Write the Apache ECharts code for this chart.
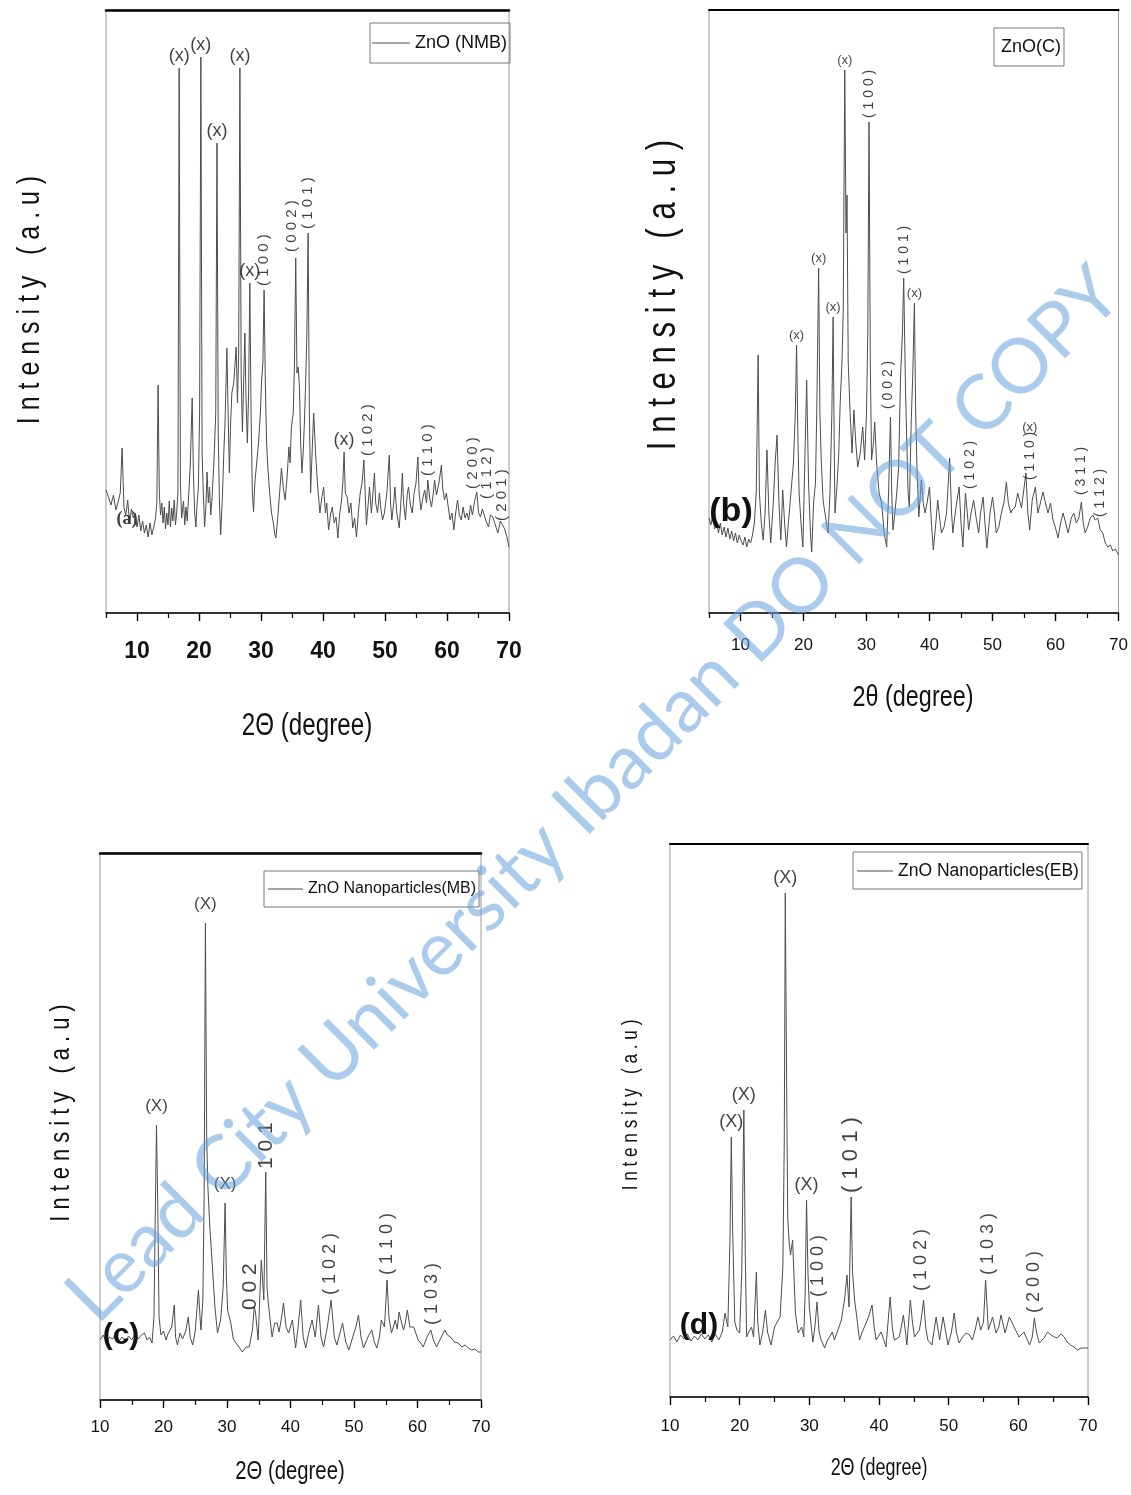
<!DOCTYPE html>
<html>
<head>
<meta charset="utf-8">
<script src="https://cdn.jsdelivr.net/npm/echarts@6/dist/echarts.min.js"></script>
<style>
  html, body { margin: 0; padding: 0; background: #fff; }
  #chart { width: 1131px; height: 1495px; }
</style>
</head>
<body>
<div id="chart"></div>
<script>
// XRD patterns of ZnO samples: [2θ (degree), intensity (a.u.)]

const majorTicks = [10, 20, 30, 40, 50, 60, 70];
const minorTicksFrom5 = [5, 15, 25, 35, 45, 55, 65];
const minorTicksFrom15 = [15, 25, 35, 45, 55, 65];

// (a) ZnO (NMB)
const patternNMB = [
  [5.0,123],[5.4,116],[5.8,108],[6.2,118],[6.6,103],[7.0,112],[7.3,120],[7.6,165],[7.9,105],[8.2,98],
  [8.5,113],[8.8,90],[9.1,104],[9.4,95],[9.7,100],[10.0,86],[10.3,98],[10.6,82],[10.9,92],[11.2,80],
  [11.5,88],[11.8,76],[12.1,90],[12.4,78],[12.7,86],[13.0,95],[13.2,110],[13.4,228],[13.6,120],[13.8,98],
  [14.0,110],[14.2,90],[14.4,106],[14.6,84],[14.8,100],[15.0,88],[15.2,112],[15.4,86],[15.6,105],[15.8,92],
  [16.0,113],[16.2,88],[16.4,100],[16.6,120],[16.8,545],[17.0,130],[17.2,95],[17.5,112],[17.7,88],[17.9,106],
  [18.1,92],[18.4,125],[18.6,150],[18.9,215],[19.1,140],[19.3,100],[19.5,86],[19.7,110],[19.9,125],[20.1,200],
  [20.3,556],[20.5,160],[20.7,120],[20.9,86],[21.1,105],[21.3,141],[21.5,110],[21.7,126],[21.9,98],[22.1,115],
  [22.4,150],[22.7,200],[22.9,470],[23.1,180],[23.3,110],[23.5,78],[23.8,120],[24.0,160],[24.2,190],[24.5,265],
  [24.7,200],[24.9,140],[25.1,190],[25.3,220],[25.6,230],[26.0,266],[26.2,210],[26.4,260],[26.6,545],[26.8,240],
  [27.0,181],[27.2,230],[27.4,280],[27.6,210],[27.8,170],[28.0,220],[28.2,330],[28.4,200],[28.6,120],[28.8,101],
  [29.0,130],[29.3,150],[29.6,170],[29.9,200],[30.1,233],[30.3,250],[30.5,323],[30.7,230],[30.9,170],[31.1,146],
  [31.4,120],[31.7,100],[32.0,90],[32.2,80],[32.4,75],[32.7,95],[33.0,120],[33.3,145],[33.6,125],[33.9,113],
  [34.2,135],[34.5,166],[34.7,150],[34.9,186],[35.2,200],[35.4,250],[35.6,355],[35.8,240],[36.0,246],[36.2,226],
  [36.4,170],[36.6,140],[36.8,160],[37.0,190],[37.2,230],[37.4,280],[37.6,380],[37.8,200],[38.0,120],[38.3,170],
  [38.5,200],[38.8,160],[39.1,130],[39.5,100],[39.8,115],[40.1,126],[40.4,100],[40.6,110],[40.9,83],[41.2,98],
  [41.5,106],[41.8,90],[42.1,96],[42.4,75],[42.7,100],[43.0,113],[43.2,130],[43.4,161],[43.6,120],[43.9,116],
  [44.2,100],[44.5,110],[44.8,85],[45.1,95],[45.4,76],[45.7,100],[46.0,120],[46.3,130],[46.6,153],[46.8,120],
  [47.0,88],[47.3,110],[47.5,126],[47.8,100],[48.0,115],[48.3,140],[48.5,110],[48.8,100],[49.1,120],[49.3,106],
  [49.6,93],[49.9,100],[50.3,120],[50.7,158],[50.9,110],[51.1,93],[51.4,110],[51.6,126],[51.9,100],[52.3,85],
  [52.6,115],[52.8,140],[53.0,110],[53.3,93],[53.6,120],[53.8,126],[54.1,108],[54.4,100],[54.7,120],[55.0,130],
  [55.3,156],[55.5,120],[55.8,103],[56.1,115],[56.4,123],[56.7,110],[56.9,133],[57.2,115],[57.5,106],[57.8,120],
  [58.0,133],[58.3,118],[58.7,130],[59.1,148],[59.3,125],[59.6,113],[59.9,120],[60.2,106],[60.5,93],[60.8,100],
  [61.1,83],[61.4,100],[61.7,113],[62.0,98],[62.3,93],[62.6,106],[62.9,95],[63.2,100],[63.5,93],[63.8,108],
  [64.1,98],[64.4,110],[64.8,121],[65.1,100],[65.4,96],[65.7,104],[66.0,106],[66.3,92],[66.7,86],[67.0,98],
  [67.4,96],[67.8,88],[68.2,80],[68.6,92],[68.9,90],[69.3,84],[69.7,75],[70.0,66]
];
const phaseLabelsNMB = [[16.8,545,'(x)'],[20.3,556,'(x)'],[22.9,470,'(x)'],[26.6,545,'(x)'],[28.2,330,'(x)'],[43.4,161,'(x)']];
const planeLabelsNMB = [[30.5,323,'(100)'],[35.0,357,'(002)'],[37.6,380,'(101)'],[47.2,153,'(102)'],[56.9,133,'(110)'],[64.2,120,'(200)'],[66.5,110,'(112)'],[68.9,88,'(201)']];

// (b) ZnO(C)
const patternC = [
  [5.0,95],[5.3,88],[5.6,98],[5.9,84],[6.2,92],[6.5,80],[6.8,90],[7.1,78],[7.4,86],[7.7,76],
  [8.0,85],[8.3,74],[8.6,82],[8.9,72],[9.2,80],[9.5,70],[9.8,78],[10.1,72],[10.4,68],[10.7,76],
  [11.0,66],[11.3,74],[11.6,70],[11.9,78],[12.2,90],[12.5,120],[12.8,258],[13.0,120],[13.3,90],[13.6,73],
  [13.9,100],[14.2,163],[14.5,100],[14.8,70],[15.2,110],[15.5,150],[15.8,178],[16.1,110],[16.4,73],[16.7,123],
  [17.0,90],[17.3,66],[17.6,90],[18.0,120],[18.4,150],[18.7,200],[18.9,268],[19.1,180],[19.3,120],[19.6,90],
  [19.9,66],[20.2,150],[20.5,233],[20.8,130],[21.1,80],[21.3,61],[21.6,110],[21.9,130],[22.1,200],[22.4,345],
  [22.6,200],[22.8,156],[23.1,113],[23.4,100],[23.9,80],[24.2,120],[24.5,200],[24.7,296],[24.9,150],[25.0,100],
  [25.3,126],[25.6,160],[25.8,206],[26.1,250],[26.3,300],[26.55,543],[26.75,380],[26.9,418],[27.1,250],[27.4,200],
  [27.7,160],[28.0,203],[28.3,170],[28.6,146],[29.0,160],[29.4,186],[29.7,153],[30.0,200],[30.2,280],[30.4,491],
  [30.6,250],[30.8,153],[31.1,170],[31.3,191],[31.6,150],[32.0,120],[32.4,110],[32.8,80],[33.2,66],[33.5,120],
  [33.8,196],[34.0,120],[34.2,83],[34.5,100],[34.8,120],[35.1,146],[35.4,236],[35.7,280],[35.9,335],[36.2,220],
  [36.4,170],[36.6,120],[36.8,106],[37.1,193],[37.35,240],[37.6,310],[37.8,200],[38.0,146],[38.3,96],[38.7,133],
  [39.0,110],[39.3,100],[39.6,110],[40.0,126],[40.3,90],[40.6,63],[41.0,90],[41.3,113],[41.6,95],[41.9,80],
  [42.3,86],[42.7,100],[43.2,155],[43.5,100],[43.7,80],[44.0,96],[44.3,110],[44.7,126],[45.0,90],[45.3,66],
  [45.7,120],[46.0,100],[46.2,83],[46.6,100],[47.0,113],[47.4,95],[47.8,80],[48.1,100],[48.5,116],[48.8,90],
  [49.1,65],[49.6,100],[50.0,116],[50.3,100],[50.6,80],[51.0,86],[51.4,100],[51.8,110],[52.2,131],[52.5,110],
  [52.9,100],[53.2,104],[53.6,106],[54.0,120],[54.3,120],[54.6,105],[55.0,125],[55.3,140],[55.6,100],[55.9,83],
  [56.3,113],[56.8,126],[57.2,100],[57.6,110],[58.0,121],[58.4,110],[58.8,100],[59.2,110],[59.6,93],[60.0,85],
  [60.4,75],[60.8,90],[61.2,100],[61.6,90],[62.0,80],[62.5,95],[62.9,100],[63.3,90],[63.7,95],[64.1,111],
  [64.4,90],[64.7,80],[65.1,86],[65.5,95],[65.9,98],[66.3,93],[66.7,95],[67.1,83],[67.5,80],[67.9,70],
  [68.3,66],[68.7,68],[69.1,62],[69.5,64],[70.0,58]
];
const phaseLabelsC = [[18.9,268,'(x)'],[22.4,345,'(x)'],[24.7,296,'(x)'],[26.55,543,'(x)'],[37.6,310,'(x)']];
const stackedLabelsC = [[55.9,129,'(x)']];
const planeLabelsC = [[30.4,491,'(100)'],[33.4,200,'(002)'],[35.9,335,'(101)'],[46.4,120,'(102)'],[55.9,129,'(110)'],[64.1,114,'(311)'],[67.1,92,'(112)']];

// (c) ZnO Nanoparticles(MB)
const patternMB = [
  [10.0,57],[10.5,62],[11.0,55],[11.5,60],[12.0,58],[12.5,63],[13.0,56],[13.5,60],[14.0,55],[14.5,61],
  [15.0,57],[15.5,63],[16.0,58],[16.5,62],[17.0,64],[17.4,57],[17.8,60],[18.2,54],[18.5,80],[18.7,180],
  [18.9,272],[19.1,190],[19.3,80],[19.6,62],[20.0,66],[20.4,57],[20.7,63],[20.9,62],[21.3,70],[21.7,92],
  [21.9,60],[22.2,52],[22.6,64],[23.0,58],[23.5,66],[23.9,80],[24.2,60],[24.6,52],[25.0,66],[25.5,107],
  [25.8,75],[25.9,67],[26.2,97],[26.4,200],[26.6,474],[26.8,260],[27.0,209],[27.3,170],[27.7,130],[28.1,90],
  [28.5,64],[29.0,77],[29.4,110],[29.7,194],[29.9,120],[30.1,87],[30.6,74],[31.0,58],[31.4,54],[31.9,50],
  [32.4,45],[33.0,50],[33.5,50],[34.0,67],[34.3,90],[34.5,84],[34.9,57],[35.4,137],[35.8,97],[36.1,225],
  [36.3,110],[36.5,94],[37.1,60],[37.5,74],[37.9,74],[38.2,65],[38.6,80],[38.9,94],[39.3,70],[39.7,64],
  [40.3,77],[40.8,49],[41.2,70],[41.6,97],[42.0,60],[42.4,49],[42.9,65],[43.4,77],[43.9,60],[44.4,92],
  [44.8,60],[45.2,50],[45.8,70],[46.4,97],[46.9,60],[47.3,52],[48.2,74],[48.7,55],[49.2,47],[49.8,60],
  [50.3,70],[50.7,82],[51.1,60],[51.5,49],[52.2,60],[52.8,67],[53.2,55],[53.6,49],[54.0,60],[54.3,77],
  [54.8,70],[55.2,117],[55.5,80],[55.9,64],[56.2,70],[56.5,77],[56.8,68],[57.1,85],[57.5,74],[57.8,67],
  [58.1,75],[58.4,87],[58.8,70],[59.4,70],[60.1,57],[60.5,54],[60.9,50],[61.5,60],[62.1,67],[62.5,57],
  [63.0,50],[63.6,58],[64.3,67],[64.7,62],[65.2,60],[65.8,55],[66.4,54],[67.0,50],[67.5,52],[68.0,49],
  [68.5,47],[69.0,48],[69.6,45],[70.0,45]
];
const phaseLabelsMB = [[18.9,272,'(X)'],[26.6,474,'(X)'],[29.7,194,'(X)']];
const planeLabelsMB = [[46.3,97,'(102)'],[55.2,117,'(110)'],[62.3,67,'(103)']];
const bigPlaneLabelsMB = [[33.7,84,'002'],[36.1,225,'101']];

// (d) ZnO Nanoparticles(EB)
const patternEB = [
  [10.0,52],[10.5,56],[11.0,50],[11.5,57],[12.0,53],[12.5,58],[13.0,51],[13.5,56],[14.0,52],[14.5,58],
  [15.0,53],[15.5,57],[16.0,50],[16.5,58],[17.0,52],[17.5,60],[17.9,79],[18.3,65],[18.6,150],[18.8,255],
  [19.0,160],[19.3,70],[19.6,62],[20.0,59],[20.3,120],[20.6,282],[20.8,140],[21.0,55],[21.3,60],[21.7,65],
  [22.0,55],[22.4,120],[22.6,70],[22.9,47],[23.3,60],[23.7,82],[24.0,60],[24.5,47],[25.0,65],[25.4,70],
  [25.8,75],[26.2,125],[26.4,250],[26.55,499],[26.75,300],[26.9,174],[27.1,150],[27.3,137],[27.6,152],[28.0,79],
  [28.4,59],[28.9,65],[29.2,55],[29.4,100],[29.6,192],[29.8,120],[30.0,85],[30.5,50],[30.8,65],[31.1,90],
  [31.4,60],[31.7,52],[32.2,44],[32.6,52],[32.9,55],[33.3,60],[33.6,52],[34.1,62],[34.6,72],[35.1,95],
  [35.4,117],[35.7,85],[36.0,195],[36.2,120],[36.5,92],[36.9,70],[37.2,52],[37.6,60],[37.9,65],[38.5,75],
  [39.0,87],[39.3,65],[39.6,52],[40.3,60],[40.7,52],[41.0,45],[41.3,70],[41.6,95],[41.9,65],[42.2,52],
  [42.9,55],[43.2,65],[43.5,77],[43.8,60],[44.0,47],[44.5,92],[44.8,70],[45.1,55],[45.8,62],[46.1,75],
  [46.4,92],[46.7,65],[47.0,52],[47.6,47],[48.2,75],[48.7,52],[49.2,75],[49.9,47],[50.4,60],[50.8,79],
  [51.1,60],[51.5,49],[52.0,55],[52.5,59],[53.0,57],[53.4,52],[53.8,62],[54.2,75],[54.6,62],[55.0,70],
  [55.3,112],[55.7,62],[56.3,75],[56.8,59],[57.2,65],[57.5,77],[58.1,59],[58.7,75],[59.4,65],[60.1,55],
  [60.8,60],[61.6,47],[62.0,55],[62.3,74],[62.6,60],[63.0,49],[63.7,54],[64.2,60],[64.7,57],[65.2,55],
  [65.6,54],[66.1,58],[66.6,55],[67.0,50],[67.5,47],[68.0,45],[68.5,42],[69.0,44],[69.5,44],[70.0,44]
];
const phaseLabelsEB = [[18.8,255,'(X)'],[20.6,282,'(X)'],[26.55,499,'(X)'],[29.6,192,'(X)']];
const planeLabelsEB = [[31.2,90,'(100)'],[46.1,96,'(102)'],[55.6,112,'(103)'],[62.2,74,'(200)']];
const bigPlaneLabelsEB = [[36.0,195,'(101)']];

// ---------------------------------------------------------------------------
const SANS = "'Liberation Sans', Arial, sans-serif";
const spaced = s => s.split('').join(' ');
const LINE_COLOR = '#4d4d4d';

const panels = [
  {
    grid: { left: 106, top: 10, width: 403, height: 603 }, xMin: 5, yMin: 0, yMax: 603,
    name: 'ZnO (NMB)', pattern: patternNMB, minor: minorTicksFrom5,
    tick: { size: 23, weight: 'bold', margin: 27 },
    xTitle: { text: '2Θ (degree)', x: 307, y: 726, size: 31 },
    yTitle: { x: 30, y: 300, size: 32 },
    topWidth: 2.5,
    legend: { left: 370, top: 23, padding: [11, 3, 11, 2], itemWidth: 38, fontSize: 18 },
    labels: [
      { data: phaseLabelsNMB, size: 18, distance: 3 },
      { data: planeLabelsNMB, size: 15, distance: 4, rotate: true }
    ]
  },
  {
    grid: { left: 709, top: 10, width: 410, height: 603 }, xMin: 5, yMin: 0, yMax: 603,
    name: 'ZnO(C)', pattern: patternC, minor: minorTicksFrom5,
    tick: { size: 17, weight: 'normal', margin: 24 },
    xTitle: { text: '2θ (degree)', x: 913, y: 698, size: 30 },
    yTitle: { x: 664, y: 295, size: 40 },
    topWidth: 2,
    legend: { left: 994, top: 28, padding: [10, 3, 10, 2], itemWidth: 0, icon: 'none', fontSize: 18 },
    labels: [
      { data: phaseLabelsC, size: 13, distance: 3 },
      { data: stackedLabelsC, size: 13, distance: 50 },
      { data: planeLabelsC, size: 14, distance: 4, rotate: true }
    ]
  },
  {
    grid: { left: 100, top: 853, width: 381, height: 547 }, xMin: 10, yMin: -3, yMax: 544,
    name: 'ZnO Nanoparticles(MB)', pattern: patternMB, minor: minorTicksFrom15,
    tick: { size: 17, weight: 'normal', margin: 19 },
    xTitle: { text: '2Θ (degree)', x: 290, y: 1472, size: 26 },
    yTitle: { x: 61, y: 1113, size: 28 },
    topWidth: 2.5,
    legend: { left: 264, top: 871, padding: [10, 3, 10, 4], itemWidth: 35, fontSize: 16 },
    labels: [
      { data: phaseLabelsMB, size: 17, distance: 10 },
      { data: planeLabelsMB, size: 18, distance: 5, rotate: true },
      { data: bigPlaneLabelsMB, size: 21, distance: 3, rotate: true }
    ]
  },
  {
    grid: { left: 670, top: 844, width: 418, height: 553 }, xMin: 10, yMin: -5, yMax: 548,
    name: 'ZnO Nanoparticles(EB)', pattern: patternEB, minor: minorTicksFrom15,
    tick: { size: 17, weight: 'normal', margin: 21 },
    xTitle: { text: '2Θ (degree)', x: 879, y: 1469, size: 23 },
    yTitle: { x: 631, y: 1105, size: 22 },
    topWidth: 2,
    legend: { left: 853, top: 852, padding: [10, 3, 9, 4], itemWidth: 36, fontSize: 17.5 },
    labels: [
      { data: phaseLabelsEB, size: 18, distance: 6 },
      { data: planeLabelsEB, size: 18, distance: 5, rotate: true },
      { data: bigPlaneLabelsEB, size: 22, distance: 4, rotate: true }
    ]
  }
];

const option = {
  animation: false,
  backgroundColor: '#fff',
  grid: [], xAxis: [], yAxis: [], series: [], legend: [], graphic: []
};

panels.forEach((p, i) => {
  option.grid.push(Object.assign({
    show: true, borderColor: '#9a9a9a', borderWidth: 1, backgroundColor: 'transparent'
  }, p.grid));

  // main bottom axis: labelled major ticks
  option.xAxis.push({
    type: 'value', gridIndex: i, position: 'bottom', min: p.xMin, max: 70,
    axisLine: { onZero: false, lineStyle: { color: '#000', width: 1.5 } },
    axisTick: { show: true, inside: false, length: 8, customValues: majorTicks, lineStyle: { color: '#000', width: 1.4 } },
    axisLabel: { show: true, customValues: majorTicks, margin: p.tick.margin, color: '#111',
      fontFamily: SANS, fontSize: p.tick.size, fontWeight: p.tick.weight },
    splitLine: { show: false }
  });
  // minor ticks between the labelled ones
  option.xAxis.push({
    type: 'value', gridIndex: i, position: 'bottom', min: p.xMin, max: 70,
    axisLine: { show: false, onZero: false },
    axisTick: { show: true, inside: false, length: 5, customValues: p.minor, lineStyle: { color: '#000', width: 1.2 } },
    axisLabel: { show: false }, splitLine: { show: false }
  });
  // heavy top frame line
  option.xAxis.push({
    type: 'value', gridIndex: i, position: 'top', min: p.xMin, max: 70,
    axisLine: { show: true, onZero: false, lineStyle: { color: '#000', width: p.topWidth } },
    axisTick: { show: false }, axisLabel: { show: false }, splitLine: { show: false }
  });

  option.yAxis.push({
    type: 'value', gridIndex: i, min: p.yMin, max: p.yMax,
    axisLine: { show: false }, axisTick: { show: false }, axisLabel: { show: false }, splitLine: { show: false }
  });

  option.series.push({
    type: 'line', name: p.name, xAxisIndex: 3 * i, yAxisIndex: i,
    data: p.pattern, symbol: 'none', smooth: false, z: 3,
    itemStyle: { color: LINE_COLOR },
    lineStyle: { color: LINE_COLOR, width: 1 }
  });

  p.labels.forEach((l, k) => {
    option.series.push({
      type: 'scatter', name: 'peak-labels-' + i + '-' + k, xAxisIndex: 3 * i, yAxisIndex: i,
      symbolSize: 0, silent: true, z: 4,
      data: l.data.map(d => ({ name: d[2], value: [d[0], d[1]] })),
      label: {
        show: true, position: 'top', distance: l.distance,
        rotate: l.rotate ? 90 : 0,
        align: l.rotate ? 'left' : 'center',
        verticalAlign: l.rotate ? 'middle' : 'bottom',
        formatter: q => (l.rotate ? spaced(q.name) : q.name),
        fontFamily: SANS, fontSize: l.size, color: '#111'
      }
    });
  });

  const lg = p.legend;
  option.legend.push({
    data: [{ name: p.name, icon: lg.icon || 'rect' }], left: lg.left, top: lg.top, orient: 'horizontal',
    padding: lg.padding, itemWidth: lg.itemWidth, itemHeight: 1, itemGap: 0,
    borderColor: '#777', borderWidth: 1, borderRadius: 0, selectedMode: false,
    textStyle: { fontFamily: SANS, fontSize: lg.fontSize, color: '#111' }
  });

  // axis titles, set in a condensed face
  option.graphic.push({
    type: 'text', x: p.xTitle.x, y: p.xTitle.y, scaleX: 0.78, z: 10,
    style: { text: p.xTitle.text, font: p.xTitle.size + 'px ' + SANS, fill: '#111',
      align: 'center', verticalAlign: 'middle' }
  });
  option.graphic.push({
    type: 'text', x: p.yTitle.x, y: p.yTitle.y, rotation: Math.PI / 2, scaleX: 0.78, z: 10,
    style: { text: spaced('Intensity (a.u)'), font: p.yTitle.size + 'px ' + SANS, fill: '#111',
      align: 'center', verticalAlign: 'middle' }
  });
});

// panel letters
option.graphic.push(
  { type: 'text', x: 127, y: 519, z: 10, style: { text: '(a)', font: "bold 18px 'Liberation Serif', serif", fill: '#3a3a3a', align: 'center', verticalAlign: 'middle', shadowBlur: 2, shadowColor: 'rgba(0,0,0,0.35)' } },
  { type: 'text', x: 731, y: 512, z: 10, style: { text: '(b)', font: "bold 34px 'Liberation Sans', sans-serif", fill: '#111', align: 'center', verticalAlign: 'middle' } },
  { type: 'text', x: 121, y: 1336, z: 10, style: { text: '(c)', font: "bold 30px 'Liberation Sans', sans-serif", fill: '#111', align: 'center', verticalAlign: 'middle' } },
  { type: 'text', x: 699, y: 1326, z: 10, style: { text: '(d)', font: "bold 30px 'Liberation Sans', sans-serif", fill: '#111', align: 'center', verticalAlign: 'middle' } }
);

// diagonal watermark across the page
option.graphic.push({
  type: 'text', x: 594, y: 795, rotation: Math.PI / 4, z: 100,
  style: { text: 'Lead City University Ibadan DO NOT COPY', font: "76px Lato, 'Open Sans', sans-serif",
    fill: 'rgba(100,160,218,0.55)', align: 'center', verticalAlign: 'middle' }
});

const chart = echarts.init(document.getElementById('chart'), null, { renderer: 'canvas', width: 1131, height: 1495 });
chart.setOption(option);
</script>
</body>
</html>
